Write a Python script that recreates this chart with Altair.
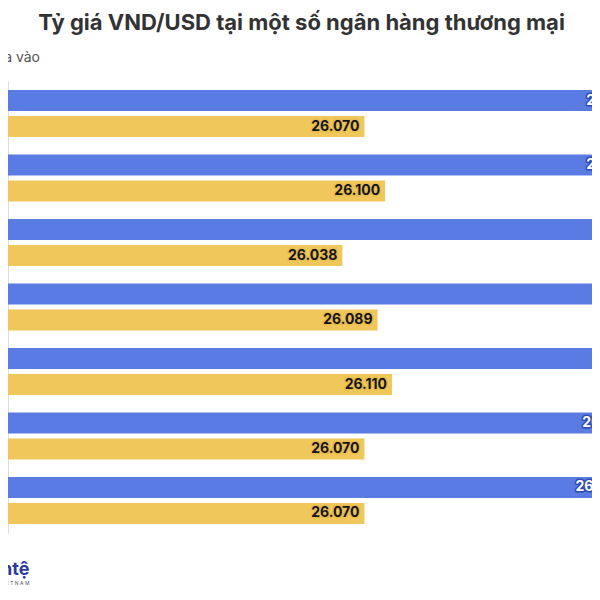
import altair as alt
import pandas as pd

banks = ["Vietcombank", "VietinBank", "BIDV", "Agribank", "Techcombank", "ACB", "Sacombank"]
sell = [26470, 26470, 26490, 26490, 26490, 26465, 26455]
buy = [26070, 26100, 26038, 26089, 26110, 26070, 26070]
series = ["Giá bán ra", "Giá mua vào"]
bar_colors = ["#5a7be2", "#f0c75a"]
halo_colors = ["#2f4bb5", "#e9bd50"]
text_colors = ["#ffffff", "#141414"]
x_domain = [25553, 26400]
title_text = ["Tỷ giá VND/USD tại một số ngân hàng thương mại"]
legend_text = ["Giá mua vào"]
logo_text = ["Tiềntệ"]
logo_sub = ["V I Ệ T   N A M"]

rows = []
for b, s, m in zip(banks, sell, buy):
    rows.append({"bank": b, "series": series[0], "value": s})
    rows.append({"bank": b, "series": series[1], "value": m})
df = pd.DataFrame(rows)
df["label"] = df["value"].map(lambda v: f"{v:,}".replace(",", "."))

W, H = 584, 452
FONT = "Inter"

y = alt.Y(
    "bank:N", sort=banks,
    scale=alt.Scale(paddingInner=0.271, paddingOuter=0.1395),
    axis=alt.Axis(labels=False, ticks=False, title=None, grid=False, domainColor="#dcdcdc"),
)
yoff = alt.YOffset("series:N", sort=series, scale=alt.Scale(paddingInner=0.1923, paddingOuter=0))
x = alt.X("value:Q", scale=alt.Scale(domain=x_domain, zero=False, nice=False), axis=None)

base = alt.Chart(df).encode(x=x, y=y, yOffset=yoff)

bars = base.mark_bar(clip=True).encode(
    color=alt.Color("series:N", scale=alt.Scale(domain=series, range=bar_colors), legend=None)
)

halo = base.mark_text(
    clip=True, align="right", dx=-5, baseline="middle", font=FONT, fontSize=14,
    fontWeight="bold", strokeWidth=3, strokeJoin="round",
).encode(
    text="label:N",
    stroke=alt.Stroke("series:N", scale=alt.Scale(domain=series, range=halo_colors), legend=None),
)

labels = base.mark_text(
    clip=True, align="right", dx=-5, baseline="middle", font=FONT, fontSize=14, fontWeight="bold",
).encode(
    text="label:N",
    fill=alt.Fill("series:N", scale=alt.Scale(domain=series, range=text_colors), legend=None),
)

title = alt.Chart(pd.DataFrame({"t": title_text})).mark_text(
    align="center", baseline="alphabetic", font=FONT, fontSize=22, fontWeight="bold", color="#333333"
).encode(text="t:N", x=alt.value(293.5), y=alt.value(-51))

legend = alt.Chart(pd.DataFrame({"t": legend_text})).mark_text(
    align="right", baseline="alphabetic", font=FONT, fontSize=14, color="#555555"
).encode(text="t:N", x=alt.value(32), y=alt.value(-19.3))

logo = alt.Chart(pd.DataFrame({"t": logo_text})).mark_text(
    align="right", baseline="alphabetic", font=FONT, fontSize=18, fontWeight="bold", color="#2b3a98"
).encode(text="t:N", x=alt.value(21.4), y=alt.value(494))

logo2 = alt.Chart(pd.DataFrame({"t": logo_sub})).mark_text(
    align="right", baseline="alphabetic", font=FONT, fontSize=5, color="#555555"
).encode(text="t:N", x=alt.value(21.4), y=alt.value(504))

chart = alt.layer(bars, halo, labels, title, legend, logo, logo2).properties(
    width=W,
    height=H,
    autosize=alt.AutoSizeParams(type="none"),
    padding={"left": 0, "top": 73, "right": 0, "bottom": 52},
).configure_view(stroke=None)

chart.save("out.html", embed_options={"renderer": "svg", "actions": False})
